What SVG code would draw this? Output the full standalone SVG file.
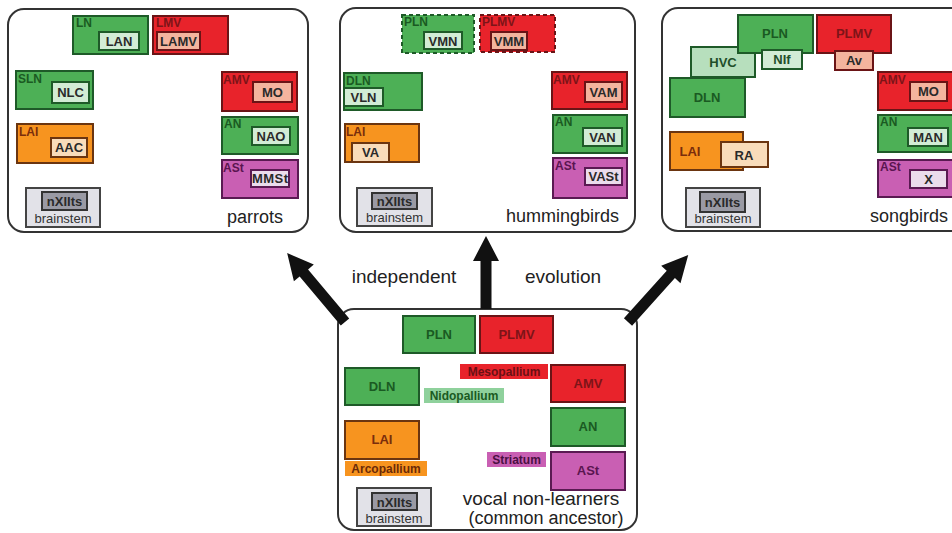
<svg xmlns="http://www.w3.org/2000/svg" width="952" height="533" viewBox="0 0 952 533">
<style>
text{font-family:"Liberation Sans",Arial,sans-serif}
.pn{fill:#fff;stroke:#333;stroke-width:2}
.g{fill:#4db056;stroke:#1e5a28;stroke-width:2}
.r{fill:#e8232b;stroke:#6a1416;stroke-width:2}
.o{fill:#f7941f;stroke:#6b3510;stroke-width:2}
.m{fill:#c95fb3;stroke:#5a1a52;stroke-width:2}
.gi{fill:#d2ecd5;stroke:#1e5a28;stroke-width:2}
.gh{fill:#b7dfbd;stroke:#1e5a28;stroke-width:2}
.ri{fill:#f4b49e;stroke:#6a1416;stroke-width:2}
.oi{fill:#f9dcba;stroke:#6b3510;stroke-width:2}
.mi{fill:#ebdcec;stroke:#5a1a52;stroke-width:2}
.bs{fill:#e2e2e8;stroke:#444;stroke-width:2}
.bi{fill:#9a9aa4;stroke:#333;stroke-width:2}
.d{stroke-dasharray:4 3}
.lg,.lr,.lo,.lm{font-size:12px;font-weight:bold}
.lg{fill:#1a5a22}.lr{fill:#7d1418}.lo{fill:#7a2d0c}.lm{fill:#5a1550}
.c{text-anchor:middle;font-size:13px;font-weight:bold}
.in{text-anchor:middle;font-size:13px;font-weight:bold;fill:#2a2a2a}
.bt{text-anchor:middle;font-size:13px;fill:#333}
.pt{font-size:18px;fill:#222;text-anchor:end}
.rl{text-anchor:middle;font-size:12px;font-weight:bold}
.arr{fill:#111}
</style>

<!-- Parrots panel -->
<g id="parrots">
<rect class="pn" x="8" y="9" width="300" height="223" rx="16"/>
<g id="p-LN"><rect class="g" x="73" y="16" width="75" height="38"/><text class="lg" x="76" y="27">LN</text><rect class="gi" x="99" y="32" width="40" height="18"/><text class="in" x="119" y="46">LAN</text></g>
<g id="p-LMV"><rect class="r" x="153" y="16" width="75" height="38"/><text class="lr" x="156" y="27">LMV</text><rect class="ri" x="157" y="32" width="43" height="18"/><text class="in" x="178.5" y="46">LAMV</text></g>
<g id="p-SLN"><rect class="g" x="16" y="71" width="77" height="38"/><text class="lg" x="18" y="83">SLN</text><rect class="gi" x="52" y="82" width="37" height="21"/><text class="in" x="70.5" y="97">NLC</text></g>
<g id="p-AMV"><rect class="r" x="222" y="72" width="75" height="39"/><text class="lr" x="223" y="84">AMV</text><rect class="ri" x="253" y="82" width="39" height="20"/><text class="in" x="272.5" y="97">MO</text></g>
<g id="p-AN"><rect class="g" x="222" y="117" width="76" height="37"/><text class="lg" x="224" y="128">AN</text><rect class="gi" x="252" y="127" width="38" height="18"/><text class="in" x="271" y="141">NAO</text></g>
<g id="p-ASt"><rect class="m" x="222" y="160" width="76" height="38"/><text class="lm" x="223" y="172">ASt</text><rect class="mi" x="251" y="170" width="38" height="17"/><text class="in" x="270" y="183" textLength="36">MMSt</text></g>
<g id="p-LAI"><rect class="o" x="17" y="124" width="76" height="39"/><text class="lo" x="19" y="136">LAI</text><rect class="oi" x="51" y="138" width="36" height="19"/><text class="in" x="69" y="152">AAC</text></g>
<g id="p-brainstem"><rect class="bs" x="26" y="188" width="74" height="39"/><rect class="bi" x="42" y="192" width="45" height="18"/><text class="in" x="64.5" y="206">nXIIts</text><text class="bt" x="63" y="223">brainstem</text></g>
<text class="pt" x="283" y="223">parrots</text>
</g>

<!-- Hummingbirds panel -->
<g id="hummingbirds">
<rect class="pn" x="340" y="8" width="295" height="224" rx="16"/>
<g id="h-PLN"><rect class="g d" x="402" y="15" width="72" height="38"/><text class="lg" x="404" y="26">PLN</text><rect class="gi" x="424" y="32" width="38" height="17"/><text class="in" x="443" y="45.5">VMN</text></g>
<g id="h-PLMV"><rect class="r d" x="480" y="15" width="75" height="37"/><text class="lr" x="482" y="26">PLMV</text><rect class="ri" x="491" y="32" width="36" height="18"/><text class="in" x="509" y="46">VMM</text></g>
<g id="h-DLN"><rect class="g" x="344" y="73" width="78" height="37"/><text class="lg" x="346" y="85">DLN</text><rect class="gi" x="344" y="88" width="39" height="18"/><text class="in" x="363.5" y="102">VLN</text></g>
<g id="h-AMV"><rect class="r" x="552" y="72" width="75" height="37"/><text class="lr" x="553" y="84">AMV</text><rect class="ri" x="585" y="82" width="37" height="20"/><text class="in" x="603.5" y="97">VAM</text></g>
<g id="h-LAI"><rect class="o" x="345" y="124" width="74" height="38"/><text class="lo" x="346" y="136">LAI</text><rect class="oi" x="352" y="143" width="37" height="19"/><text class="in" x="370.5" y="157">VA</text></g>
<g id="h-AN"><rect class="g" x="553" y="115" width="74" height="38"/><text class="lg" x="555" y="126">AN</text><rect class="gi" x="583" y="128" width="39" height="18"/><text class="in" x="602.5" y="142">VAN</text></g>
<g id="h-ASt"><rect class="m" x="553" y="158" width="74" height="40"/><text class="lm" x="555" y="170">ASt</text><rect class="mi" x="585" y="168" width="37" height="17"/><text class="in" x="603.5" y="181">VASt</text></g>
<g id="h-brainstem"><rect class="bs" x="357" y="188" width="75" height="38"/><rect class="bi" x="372" y="193" width="45" height="16"/><text class="in" x="394.5" y="206">nXIIts</text><text class="bt" x="394.5" y="222">brainstem</text></g>
<text class="pt" x="619" y="222">hummingbirds</text>
</g>

<!-- Songbirds panel -->
<g id="songbirds">
<rect class="pn" x="662" y="8" width="320" height="223" rx="16"/>
<g id="s-HVC"><rect class="gh" x="691" y="47" width="64" height="30"/><text class="c" x="723" y="67" fill="#1f4f2a">HVC</text></g>
<g id="s-PLN"><rect class="g" x="738" y="15" width="75" height="38"/><text class="c" x="775" y="38" fill="#1a5a22">PLN</text></g>
<g id="s-NIf"><rect class="gi" x="762" y="50" width="40" height="19"/><text class="c" x="782" y="64" fill="#1f4f2a">NIf</text></g>
<g id="s-DLN"><rect class="g" x="670" y="78" width="75" height="39"/><text class="c" x="707" y="102" fill="#1a5a22">DLN</text></g>
<g id="s-PLMV"><rect class="r" x="817" y="15" width="74" height="38"/><text class="c" x="854" y="38" fill="#7d1418">PLMV</text></g>
<g id="s-Av"><rect class="ri" x="835" y="51" width="38" height="19"/><text class="in" x="854" y="65">Av</text></g>
<g id="s-AMV"><rect class="r" x="878" y="72" width="80" height="38"/><text class="lr" x="879" y="84">AMV</text><rect class="ri" x="910" y="82" width="37" height="19"/><text class="in" x="928.5" y="96">MO</text></g>
<g id="s-AN"><rect class="g" x="878" y="115" width="80" height="37"/><text class="lg" x="880" y="126">AN</text><rect class="gi" x="908" y="128" width="40" height="18"/><text class="in" x="928" y="142">MAN</text></g>
<g id="s-ASt"><rect class="m" x="878" y="160" width="80" height="37"/><text class="lm" x="880" y="171">ASt</text><rect class="mi" x="910" y="170" width="37" height="18"/><text class="in" x="928.5" y="184">X</text></g>
<g id="s-LAI"><rect class="o" x="670" y="132" width="73" height="38"/><text class="c" x="690" y="156" fill="#7a2d0c">LAI</text></g>
<g id="s-RA"><rect class="oi" x="721" y="142" width="47" height="25"/><text class="in" x="744" y="160">RA</text></g>
<g id="s-brainstem"><rect class="bs" x="686" y="188" width="74" height="39"/><rect class="bi" x="700" y="192" width="45" height="20"/><text class="in" x="722.5" y="207">nXIIts</text><text class="bt" x="723" y="223">brainstem</text></g>
<text class="pt" x="948" y="222">songbirds</text>
</g>

<!-- Ancestor panel -->
<g id="ancestor">
<rect class="pn" x="338" y="309" width="299" height="221" rx="16"/>
<g id="a-PLN"><rect class="g" x="403" y="316" width="72" height="37"/><text class="c" x="439" y="339" fill="#1a5a22">PLN</text></g>
<g id="a-PLMV"><rect class="r" x="480" y="316" width="73" height="37"/><text class="c" x="516.5" y="339" fill="#7d1418">PLMV</text></g>
<g id="a-DLN"><rect class="g" x="345" y="368" width="74" height="37"/><text class="c" x="382" y="391" fill="#1a5a22">DLN</text></g>
<g id="a-Mesopallium"><rect x="460" y="364" width="88" height="15" fill="#e8232b"/><text class="rl" x="504" y="376" fill="#6a1014">Mesopallium</text></g>
<g id="a-Nidopallium"><rect x="424" y="388" width="80" height="15" fill="#8fd19c"/><text class="rl" x="464" y="400" fill="#1a5a22">Nidopallium</text></g>
<g id="a-AMV"><rect class="r" x="551" y="365" width="74" height="37"/><text class="c" x="588" y="388" fill="#7d1418">AMV</text></g>
<g id="a-AN"><rect class="g" x="551" y="408" width="74" height="38"/><text class="c" x="588" y="431" fill="#1a5a22">AN</text></g>
<g id="a-LAI"><rect class="o" x="345" y="421" width="74" height="38"/><text class="c" x="382" y="444" fill="#7a2d0c">LAI</text></g>
<g id="a-Arcopallium"><rect x="345" y="461" width="82" height="15" fill="#f7941f"/><text class="rl" x="386" y="473" fill="#6b2a08">Arcopallium</text></g>
<g id="a-Striatum"><rect x="487" y="452" width="59" height="15" fill="#c95fb3"/><text class="rl" x="516.5" y="464" fill="#4a1042">Striatum</text></g>
<g id="a-ASt"><rect class="m" x="551" y="452" width="74" height="38"/><text class="c" x="588" y="475" fill="#5a1550">ASt</text></g>
<g id="a-brainstem"><rect class="bs" x="357" y="488" width="74" height="38"/><rect class="bi" x="372" y="493" width="45" height="17"/><text class="in" x="394.5" y="507">nXIIts</text><text class="bt" x="394" y="523">brainstem</text></g>
<text x="541" y="505" font-size="19" fill="#222" text-anchor="middle">vocal non-learners</text>
<text x="546" y="524" font-size="18" fill="#222" text-anchor="middle">(common ancestor)</text>
</g>

<!-- Connectors -->
<g id="connectors">
<path class="arr" transform="translate(345,322) rotate(-40)" d="M-5.5,0 V-64 H-13 L0,-90 L13,-64 H5.5 V0 Z"/>
<path class="arr" d="M480.5,309 V261 H473 L486,236 L499,261 H491.5 V309 Z"/>
<path class="arr" transform="translate(628,322) rotate(42)" d="M-5.5,0 V-64 H-13 L0,-90 L13,-64 H5.5 V0 Z"/>
<text x="404" y="283" font-size="19" fill="#222" text-anchor="middle">independent</text>
<text x="563" y="283" font-size="19" fill="#222" text-anchor="middle">evolution</text>
</g>
</svg>
